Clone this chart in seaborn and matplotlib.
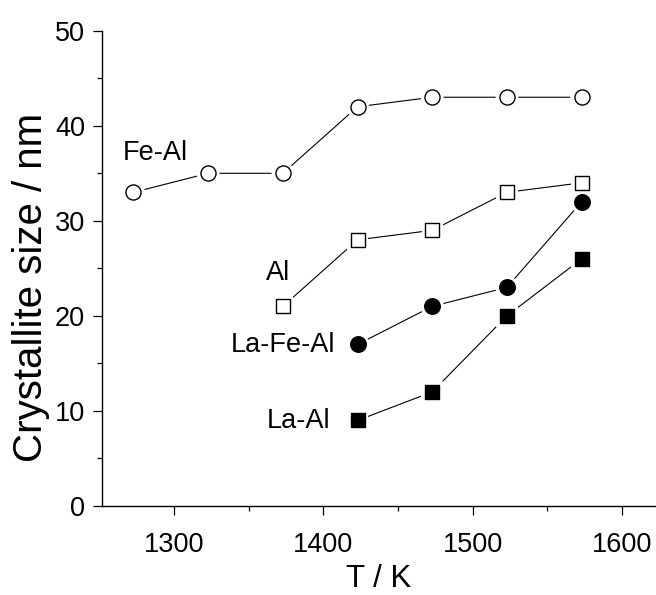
import matplotlib
matplotlib.use("Agg")
import matplotlib.pyplot as plt
from matplotlib.ticker import MultipleLocator
import seaborn as sns
import pandas as pd

# Calcination temperature (K) and crystallite size (nm) for each sample
temp_fe_al = [1273, 1323, 1373, 1423, 1473, 1523, 1573]
size_fe_al = [33, 35, 35, 42, 43, 43, 43]

temp_al = [1373, 1423, 1473, 1523, 1573]
size_al = [21, 28, 29, 33, 34]

temp_la_fe_al = [1423, 1473, 1523, 1573]
size_la_fe_al = [17, 21, 23, 32]

temp_la_al = [1423, 1473, 1523, 1573]
size_la_al = [9, 12, 20, 26]

x_ticks = [1300, 1400, 1500, 1600]
y_ticks = [0, 10, 20, 30, 40, 50]

sns.set_style("ticks")
plt.rcParams["font.family"] = ["Liberation Sans", "DejaVu Sans"]
for key in ("text.color", "axes.labelcolor", "xtick.color", "ytick.color",
            "axes.edgecolor"):
    plt.rcParams[key] = "black"
FS = 19.5

fig = plt.figure(figsize=(6.56, 5.95), dpi=100)
ax = fig.add_axes([0.155, 0.1496, 0.845, 0.7988])

series = [
    ("Fe-Al", temp_fe_al, size_fe_al, "o", "white", 118),
    ("Al", temp_al, size_al, "s", "white", 96),
    ("La-Fe-Al", temp_la_fe_al, size_la_fe_al, "o", "black", 125),
    ("La-Al", temp_la_al, size_la_al, "s", "black", 100),
]

for name, t, s, mk, face, area in series:
    df = pd.DataFrame({"T": t, "size": s})
    sns.lineplot(data=df, x="T", y="size", ax=ax, color="black",
                 linewidth=0.8, zorder=1, sort=False)
    # white halo leaves a small gap between the line and each symbol
    halo = (area ** 0.5 + 5.5) ** 2
    sns.scatterplot(data=df, x="T", y="size", ax=ax, marker=mk, s=halo,
                    color="white", edgecolor="none", linewidth=0, zorder=2)
    sns.scatterplot(data=df, x="T", y="size", ax=ax, marker=mk, s=area,
                    facecolor=face, edgecolor="black", linewidth=1.0,
                    zorder=3)

# Series labels
ax.text(1266, 36.4, "Fe-Al", fontsize=FS, ha="left", va="baseline")
ax.text(1361.5, 23.8, "Al", fontsize=FS, ha="left", va="baseline")
ax.text(1408, 16.2, "La-Fe-Al", fontsize=FS, ha="right", va="baseline")
ax.text(1404.5, 8.2, "La-Al", fontsize=FS, ha="right", va="baseline")

ax.set_xlim(1251.7, 1622.8)
ax.set_ylim(0, 50)
ax.set_xticks(x_ticks)
ax.set_yticks(y_ticks)
ax.xaxis.set_minor_locator(MultipleLocator(50))
ax.yaxis.set_minor_locator(MultipleLocator(5))

ax.set_xlabel("T / K", fontsize=22.5, labelpad=4)
ax.set_ylabel("Crystallite size / nm", fontsize=29)
ax.yaxis.set_label_coords(-0.093, 0.46)

for side in ("top", "right"):
    ax.spines[side].set_visible(False)
for side in ("left", "bottom"):
    ax.spines[side].set_linewidth(1.0)
    ax.spines[side].set_color("black")

ax.tick_params(axis="both", which="major", direction="out", length=6.5,
               width=0.9, color="black", labelsize=FS)
ax.tick_params(axis="x", which="major", pad=12.5)
ax.tick_params(axis="y", which="major", pad=5.5)
ax.tick_params(axis="both", which="minor", direction="out", length=3.6,
               width=0.9, color="black")
ax.grid(False)

fig.savefig("out.png", dpi=100)
